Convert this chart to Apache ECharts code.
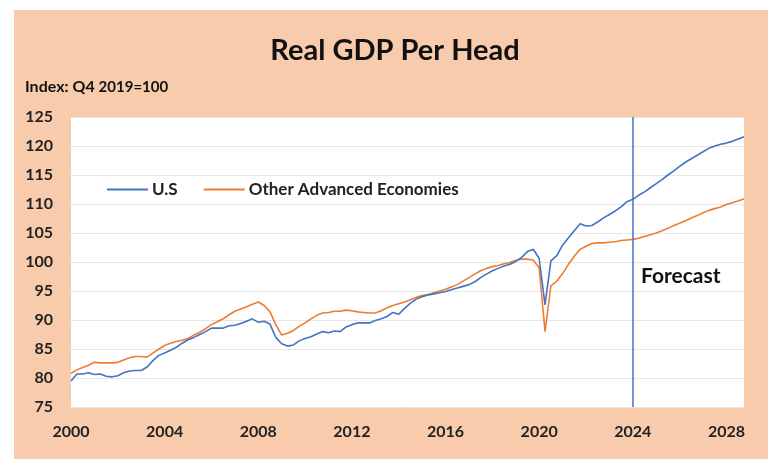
<!DOCTYPE html>
<html>
<head>
<meta charset="utf-8">
<script src="https://cdn.jsdelivr.net/npm/echarts@6/dist/echarts.min.js"></script>
<style>
    html, body { margin: 0; padding: 0; background: #fff; }
    #bg { position: absolute; left: 14px; top: 10px; width: 754px; height: 449px; background: #F8CBAD; }
    #main { position: absolute; left: 0; top: 0; width: 768px; height: 459px; }
</style>
</head>
<body>
<div id="bg"></div>
<div id="main"></div>
<script>
    // quarterly index values, Q1 2000 .. Q4 2028
    const startYear = 2000
    const forecastYear = 2024
    const yearTicks = [2000, 2004, 2008, 2012, 2016, 2020, 2024, 2028]

    const usValues = [
        79.5, 80.7, 80.7, 80.9,   80.6, 80.7, 80.3, 80.2,
        80.4, 80.9, 81.2, 81.3,   81.3, 81.9, 83.0, 83.9,
        84.3, 84.8, 85.3, 86.0,   86.6, 87.0, 87.5, 88.0,
        88.6, 88.6, 88.6, 89.0,   89.1, 89.4, 89.8, 90.2,
        89.6, 89.8, 89.3, 87.0,   85.9, 85.5, 85.7, 86.4,
        86.8, 87.1, 87.6, 88.0,   87.8, 88.1, 88.0, 88.8,
        89.2, 89.5, 89.5, 89.5,   89.9, 90.2, 90.6, 91.3,
        91.0, 92.0, 92.9, 93.6,   94.0, 94.3, 94.5, 94.7,
        94.9, 95.2, 95.5, 95.8,   96.1, 96.6, 97.3, 97.9,
        98.5, 98.9, 99.3, 99.6,   100.1, 100.8, 101.8, 102.2,
        100.6, 92.6, 100.2, 101.1, 102.9, 104.2, 105.4, 106.6,
        106.2, 106.3, 106.9, 107.6, 108.2, 108.8, 109.5, 110.4,
        110.8, 111.5, 112.1, 112.8, 113.5, 114.2, 115.0, 115.7,
        116.5, 117.2, 117.8, 118.4, 119.0, 119.6, 120.0, 120.3,
        120.5, 120.8, 121.2, 121.6
    ]

    const otherValues = [
        80.8, 81.4, 81.8, 82.2,   82.7, 82.6, 82.6, 82.6,
        82.7, 83.1, 83.5, 83.7,   83.7, 83.6, 84.3, 85.0,
        85.6, 86.0, 86.3, 86.5,   86.8, 87.4, 87.9, 88.5,
        89.2, 89.7, 90.2, 90.9,   91.5, 91.9, 92.3, 92.7,
        93.1, 92.5, 91.4, 89.2,   87.4, 87.7, 88.2, 88.9,
        89.5, 90.2, 90.8, 91.2,   91.3, 91.5, 91.5, 91.7,
        91.6, 91.4, 91.3, 91.2,   91.2, 91.6, 92.1, 92.5,
        92.8, 93.1, 93.5, 93.9,   94.2, 94.4, 94.7, 95.0,
        95.3, 95.7, 96.1, 96.7,   97.3, 97.9, 98.5, 98.9,
        99.2, 99.4, 99.7, 99.9,   100.3, 100.5, 100.5, 100.3,
        99.0, 88.0, 95.9, 96.7,   98.0, 99.6, 101.0, 102.2,
        102.7, 103.2, 103.3, 103.3, 103.4, 103.5, 103.7, 103.8,
        103.9, 104.1, 104.4, 104.7, 105.0, 105.4, 105.8, 106.3,
        106.7, 107.1, 107.6, 108.0, 108.5, 108.9, 109.2, 109.5,
        109.9, 110.2, 110.5, 110.9
    ]

    const seriesNames = ['U.S', 'Other Advanced Economies']
    const seriesColors = ['#4472C4', '#ED7D31']

    function toPairs(values) {
        return values.map(function (v, i) { return [startYear + i / 4, v] })
    }

    const fontFam = 'Lato, "Open Sans", sans-serif'
    const lastX = startYear + (usValues.length - 1) / 4

    var myChart = echarts.init(document.getElementById('main'))
    var option = {
        backgroundColor: 'transparent',
        animation: false,
        title: {
            text: 'Real GDP Per Head',
            left: 390,
            top: 31,
            textAlign: 'center',
            textStyle: { fontFamily: fontFam, fontWeight: 'bold', fontSize: 29, color: '#111' }
        },
        graphic: [
            {
                type: 'text', left: 25, top: 79,
                style: {
                    text: '{a|Index: Q4 }{b|2019=100}',
                    rich: {
                        a: { fontFamily: fontFam, fontWeight: 'bold', fontSize: 16, fill: '#111' },
                        b: { fontFamily: fontFam, fontWeight: 'bold', fontSize: 15, fill: '#111' }
                    }
                }
            },
            {
                type: 'text', left: 641, top: 266,
                style: { text: 'Forecast', fontFamily: fontFam, fontWeight: 'bold', fontSize: 21, fill: '#111' }
            }
        ],
        legend: {
            left: 102,
            top: 176,
            icon: 'rect',
            itemWidth: 41,
            itemHeight: 2,
            itemGap: 26,
            textStyle: { fontFamily: fontFam, fontWeight: 'bold', fontSize: 17, color: '#222', padding: [0, 0, 0, -1] },
            data: seriesNames
        },
        grid: {
            left: 71, top: 117, right: 24, bottom: 52,
            show: true, backgroundColor: '#fff', borderWidth: 0
        },
        xAxis: {
            type: 'value',
            min: startYear,
            max: lastX,
            interval: 4,
            axisLine: { show: false },
            axisTick: { show: false },
            splitLine: { show: false },
            axisLabel: {
                margin: 17,
                showMaxLabel: false,
                fontFamily: fontFam, fontWeight: 'bold', fontSize: 16, color: '#222',
                formatter: function (v) { return yearTicks.indexOf(v) >= 0 ? String(v) : '' }
            }
        },
        yAxis: {
            type: 'value',
            min: 75,
            max: 125,
            interval: 5,
            axisLine: { show: false },
            axisTick: { show: false },
            splitLine: { lineStyle: { color: '#E6E6E6', width: 1 } },
            axisLabel: { margin: 18, fontFamily: fontFam, fontWeight: 'bold', fontSize: 16, color: '#222' }
        },
        series: [
            {
                name: seriesNames[0],
                type: 'line',
                data: toPairs(usValues),
                showSymbol: false,
                symbol: 'none',
                color: seriesColors[0],
                lineStyle: { width: 1.6, color: seriesColors[0] },
                z: 3,
                markLine: {
                    silent: true,
                    symbol: ['none', 'none'],
                    label: { show: false },
                    lineStyle: { color: seriesColors[0], width: 1.5, type: 'solid', opacity: 1 },
                    data: [{
                        xAxis: forecastYear,
                        lineStyle: { color: seriesColors[0], width: 1.5, type: 'solid' }
                    }]
                }
            },
            {
                name: seriesNames[1],
                type: 'line',
                data: toPairs(otherValues),
                showSymbol: false,
                symbol: 'none',
                color: seriesColors[1],
                lineStyle: { width: 1.6, color: seriesColors[1] },
                z: 2
            }
        ]
    }
    myChart.setOption(option)
</script>
</body>
</html>
